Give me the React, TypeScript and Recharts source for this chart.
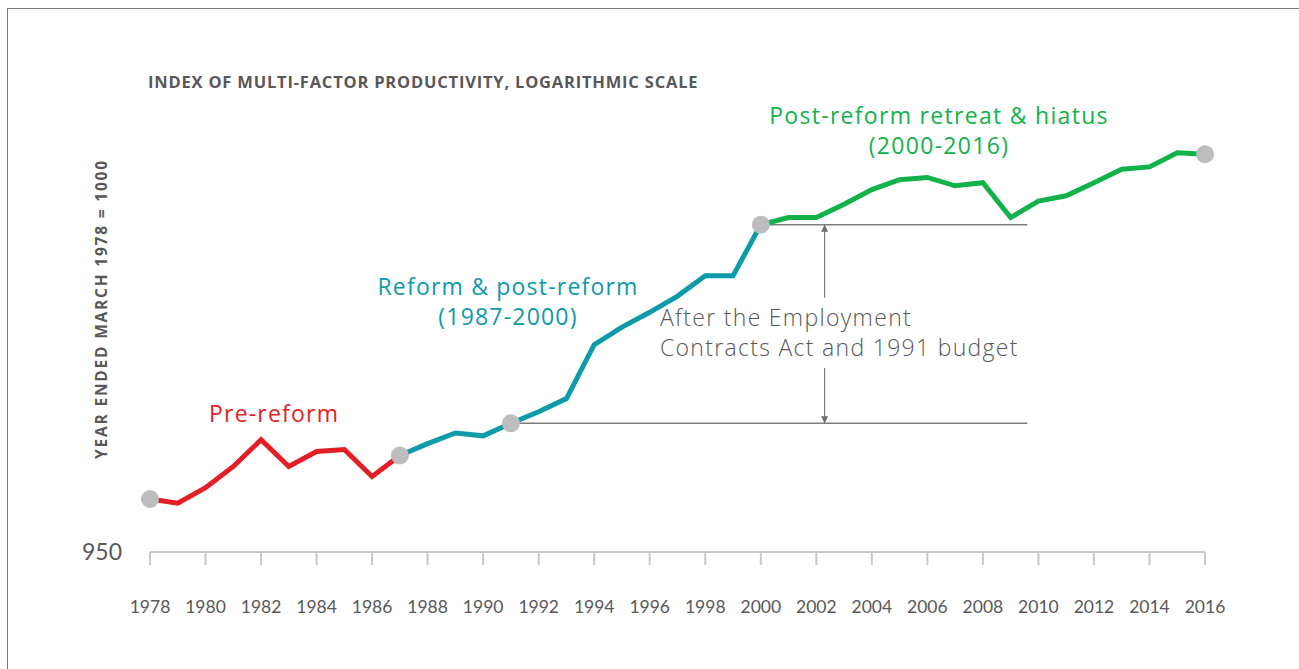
import React from 'react';
import { LineChart, Line, XAxis, YAxis, ReferenceLine, ReferenceDot } from 'recharts';

const years = [
  1978, 1979, 1980, 1981, 1982, 1983, 1984, 1985, 1986, 1987, 1988, 1989, 1990,
  1991, 1992, 1993, 1994, 1995, 1996, 1997, 1998, 1999, 2000, 2001, 2002, 2003,
  2004, 2005, 2006, 2007, 2008, 2009, 2010, 2011, 2012, 2013, 2014, 2015, 2016,
];

// 1978-1987
const preReform = [1000, 996, 1011, 1032, 1059, 1032, 1047, 1049, 1022, 1043];
// 1987-2000
const reform = [1043, 1055, 1066, 1063, 1076, 1088, 1102, 1161, 1181, 1198, 1217, 1241, 1241, 1304];
// 2000-2016
const postReform = [1304, 1313, 1313, 1330, 1349, 1362, 1365, 1354, 1358, 1313, 1334, 1341, 1358, 1376, 1379, 1398, 1396];

const markerYears = [1978, 1987, 1991, 2000, 2016];
const xTicks = [1978, 1980, 1982, 1984, 1986, 1988, 1990, 1992, 1994, 1996, 1998, 2000, 2002, 2004, 2006, 2008, 2010, 2012, 2014, 2016];
const yTicks = [950];

const RED = '#e31e25';
const TEAL = '#0d9aa9';
const GREEN = '#12b24b';
const GREY_TEXT = '#58585a';
const FONT = '"Open Sans", Lato, sans-serif';
const TICK_FONT = 'Lato, "Open Sans", sans-serif';

const data = years.map((year) => {
  const pi = year - 1978;
  const ri = year - 1987;
  const gi = year - 2000;
  const pre = pi >= 0 && pi < preReform.length ? preReform[pi] : null;
  const ref = ri >= 0 && ri < reform.length ? reform[ri] : null;
  const post = gi >= 0 && gi < postReform.length ? postReform[gi] : null;
  const value = pre ?? ref ?? post;
  return {
    year,
    pre,
    reform: ref,
    post,
    marker: markerYears.includes(year) ? value : null,
  };
});

const val1991 = reform[1991 - 1987];
const val2000 = postReform[0];
const arrowX = 2002.3;
const refEnd = 2009.6;

const ArrowHead = ({ cx, cy, dir }: { cx?: number; cy?: number; dir: 'up' | 'down' }) => {
  if (cx == null || cy == null) return null;
  const h = 7;
  const w = 3.5;
  const pts =
    dir === 'up'
      ? `${cx},${cy} ${cx - w},${cy + h} ${cx + w},${cy + h}`
      : `${cx},${cy} ${cx - w},${cy - h} ${cx + w},${cy - h}`;
  return <polygon points={pts} fill="#6d6e70" />;
};

const abs = (left: number, top: number, extra: React.CSSProperties = {}): React.CSSProperties => ({
  position: 'absolute',
  left,
  top,
  fontFamily: FONT,
  whiteSpace: 'nowrap',
  ...extra,
});

export default function App() {
  return (
    <div style={{ position: 'absolute', left: 0, top: 0, width: 1299, height: 669, overflow: 'hidden', background: '#fff' }}>
      <div
        style={{
          position: 'absolute',
          left: 7,
          top: 8,
          width: 1291,
          height: 660,
          borderLeft: '1.5px solid #7d7d7d',
          borderTop: '1.5px solid #7d7d7d',
        }}
      />
      <LineChart
        width={1299}
        height={669}
        data={data}
        margin={{ top: 115, right: 94, left: 90, bottom: 57 }}
        style={{ position: 'absolute', left: 0, top: 0 }}
      >
        <XAxis
          dataKey="year"
          type="number"
          domain={[1978, 2016]}
          ticks={xTicks}
          height={60}
          tickSize={13}
          tickMargin={36}
          axisLine={{ stroke: '#c8c8c8', strokeWidth: 2 }}
          tickLine={{ stroke: '#c8c8c8', strokeWidth: 2 }}
          tick={{ fontSize: 17.5, fill: GREY_TEXT, fontFamily: TICK_FONT }}
        />
        <YAxis
          scale="log"
          domain={[950, 1450]}
          ticks={yTicks}
          width={60}
          axisLine={false}
          tickLine={false}
          tickSize={0}
          tickMargin={28}
          tick={{ fontSize: 23, fill: GREY_TEXT, fontFamily: TICK_FONT }}
          allowDataOverflow
        />
        <ReferenceLine
          segment={[{ x: 1991, y: val1991 }, { x: refEnd, y: val1991 }]}
          stroke="#7d7d7d"
          strokeWidth={1.5}
        />
        <ReferenceLine
          segment={[{ x: 2000, y: val2000 }, { x: refEnd, y: val2000 }]}
          stroke="#7d7d7d"
          strokeWidth={1.5}
        />
        <ReferenceLine
          segment={[{ x: arrowX, y: val2000 }, { x: arrowX, y: 1215 }]}
          stroke="#7d7d7d"
          strokeWidth={1.2}
        />
        <ReferenceLine
          segment={[{ x: arrowX, y: 1135 }, { x: arrowX, y: val1991 }]}
          stroke="#7d7d7d"
          strokeWidth={1.2}
        />
        <ReferenceDot x={arrowX} y={val2000} r={4} shape={(p: any) => <ArrowHead cx={p.cx} cy={p.cy} dir="up" />} />
        <ReferenceDot x={arrowX} y={val1991} r={4} shape={(p: any) => <ArrowHead cx={p.cx} cy={p.cy} dir="down" />} />
        <Line dataKey="pre" stroke={RED} strokeWidth={5} dot={false} activeDot={false} isAnimationActive={false} />
        <Line dataKey="reform" stroke={TEAL} strokeWidth={5} dot={false} activeDot={false} isAnimationActive={false} />
        <Line dataKey="post" stroke={GREEN} strokeWidth={5} dot={false} activeDot={false} isAnimationActive={false} />
        <Line
          dataKey="marker"
          stroke="none"
          dot={{ r: 9, fill: '#bdbdbf', stroke: 'none' }}
          activeDot={false}
          isAnimationActive={false}
        />
      </LineChart>

      <div style={abs(148, 70, { fontSize: 16.5, fontWeight: 700, color: GREY_TEXT, letterSpacing: 0.8 })}>
        INDEX OF MULTI-FACTOR PRODUCTIVITY, LOGARITHMIC SCALE
      </div>
      <div
        style={abs(101, 309, {
          fontSize: 15.5,
          fontWeight: 700,
          color: GREY_TEXT,
          letterSpacing: 1.8,
          transform: 'translate(-50%, -50%) rotate(-90deg)',
        })}
      >
        YEAR ENDED MARCH 1978 = 1000
      </div>

      <div style={abs(209, 397, { fontSize: 23, fontWeight: 500, color: RED, letterSpacing: 1.2 })}>Pre-reform</div>
      <div style={abs(508, 271, { fontSize: 23, fontWeight: 500, color: TEAL, letterSpacing: 1.2, transform: 'translateX(-50%)', textAlign: 'center', lineHeight: '30px' })}>
        Reform &amp; post-reform
        <br />
        (1987-2000)
      </div>
      <div style={abs(939, 100, { fontSize: 23, fontWeight: 500, color: GREEN, letterSpacing: 1.3, transform: 'translateX(-50%)', textAlign: 'center', lineHeight: '30px' })}>
        Post-reform retreat &amp; hiatus
        <br />
        (2000-2016)
      </div>
      <div style={abs(660, 302, { fontSize: 23, fontWeight: 300, color: GREY_TEXT, letterSpacing: 1.3, lineHeight: '30px' })}>
        After the Employment
        <br />
        Contracts Act and 1991 budget
      </div>
    </div>
  );
}
